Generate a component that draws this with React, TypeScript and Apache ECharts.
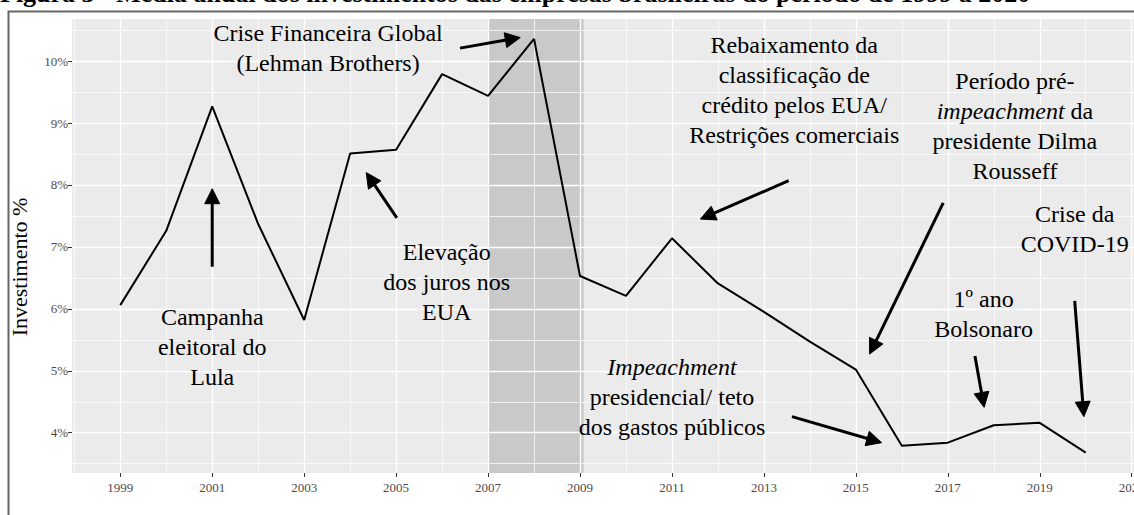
import React, { useEffect, useRef } from "react";
import * as echarts from "echarts";

const years = [1999, 2000, 2001, 2002, 2003, 2004, 2005, 2006, 2007, 2008, 2009, 2010, 2011, 2012, 2013, 2014, 2015, 2016, 2017, 2018, 2019, 2020];
const investment = [6.06, 7.26, 9.27, 7.37, 5.82, 8.51, 8.57, 9.79, 9.44, 10.36, 6.53, 6.21, 7.14, 6.41, 5.95, 5.47, 5.02, 3.79, 3.84, 4.12, 4.16, 3.68];

const xTicks = [1999, 2001, 2003, 2005, 2007, 2009, 2011, 2013, 2015, 2017, 2019, 2021];
const xMinor = [1998, 2000, 2002, 2004, 2006, 2008, 2010, 2012, 2014, 2016, 2018, 2020];
const yTicks = [4, 5, 6, 7, 8, 9, 10];
const yMinor = [3.5, 4.5, 5.5, 6.5, 7.5, 8.5, 9.5, 10.5];
const crisisBand = [2007, 2009.08];

const titleText = "Figura 3 - Média anual dos investimentos das empresas brasileiras do período de 1999 a 2020";
const yAxisTitle = "Investimento %";

const notes = [
  { lines: ["Crise Financeira Global", "(Lehman Brothers)"], x: 2003.52, y: 10.21 },
  { lines: ["Campanha", "eleitoral do", "Lula"], x: 2001.0, y: 5.38 },
  { lines: ["Elevação", "dos juros nos", "EUA"], x: 2006.1, y: 6.43 },
  { lines: ["Rebaixamento da", "classificação de", "crédito pelos EUA/", "Restrições comerciais"], x: 2013.66, y: 9.53 },
  { lines: ["Período pré-", "{i|impeachment} da", "presidente Dilma", "Rousseff"], x: 2018.46, y: 8.95 },
  { lines: ["Crise da", "COVID-19"], x: 2019.76, y: 7.29 },
  { lines: ["1º ano", "Bolsonaro"], x: 2017.78, y: 5.91 },
  { lines: ["{i|Impeachment}", "presidencial/ teto", "dos gastos públicos"], x: 2011.0, y: 4.57 },
];

const arrows = [
  { from: [2006.39, 10.21], to: [2007.7, 10.38] },
  { from: [2001.0, 6.68], to: [2001.0, 7.94] },
  { from: [2005.015, 7.47], to: [2004.35, 8.2] },
  { from: [2013.54, 8.07], to: [2011.62, 7.45] },
  { from: [2016.9, 7.71], to: [2015.3, 5.27] },
  { from: [2013.61, 4.26], to: [2015.56, 3.84] },
  { from: [2017.59, 5.24], to: [2017.79, 4.41] },
  { from: [2019.76, 6.13], to: [2019.96, 4.26] },
];

const SERIF = "'Liberation Serif', 'Times New Roman', serif";

export default function App() {
  const ref = useRef<HTMLDivElement>(null);
  useEffect(() => {
    if (!ref.current) return;
    document.documentElement.style.overflow = "hidden";
    document.body.style.overflow = "hidden";
    const chart = echarts.init(ref.current, undefined, { renderer: "svg", width: 1134, height: 515 });
    const lineData = years.map((y, i) => [y, investment[i]]);
    const gridLines: any[] = [];
    xTicks.forEach((v) => gridLines.push({ xAxis: v, lineStyle: { width: 1.3, color: "#ffffff", type: "solid" } }));
    xMinor.forEach((v) => gridLines.push({ xAxis: v, lineStyle: { width: 0.7, color: "#ffffff", type: "solid" } }));
    yTicks.forEach((v) => gridLines.push({ yAxis: v, lineStyle: { width: 1.3, color: "#ffffff", type: "solid" } }));
    yMinor.forEach((v) => gridLines.push({ yAxis: v, lineStyle: { width: 0.7, color: "#ffffff", type: "solid" } }));

    const option: any = {
      animation: false,
      backgroundColor: "#ffffff",
      grid: {
        left: 72,
        top: 19,
        right: 0,
        bottom: 42,
        show: true,
        backgroundColor: "#EBEBEB",
        borderWidth: 0,
        containLabel: false,
        outerBoundsMode: "none",
      },
      xAxis: {
        type: "value",
        min: 1997.95,
        max: 2021.05,
        axisLine: { show: false },
        splitLine: { show: false },
        axisTick: { show: true, customValues: xTicks, length: 4, lineStyle: { color: "#333333", width: 1 } },
        axisLabel: {
          customValues: xTicks,
          formatter: (v: number) => String(v),
          margin: 8,
          color: "#4D4D4D",
          fontFamily: SERIF,
          fontSize: 13,
          hideOverlap: false,
        },
      },
      yAxis: {
        type: "value",
        min: 3.35,
        max: 10.68,
        axisLine: { show: false },
        splitLine: { show: false },
        axisTick: { show: true, customValues: yTicks, length: 4, lineStyle: { color: "#333333", width: 1 } },
        axisLabel: {
          customValues: yTicks,
          formatter: (v: number) => `${v}%`,
          margin: 4,
          color: "#4D4D4D",
          fontFamily: SERIF,
          fontSize: 13,
        },
      },
      series: [
        {
          type: "line",
          data: lineData,
          showSymbol: false,
          lineStyle: { opacity: 0, width: 0 },
          silent: true,
          z: 1,
          markLine: { silent: true, symbol: ["none", "none"], label: { show: false }, data: gridLines },
        },
        {
          type: "line",
          data: lineData,
          showSymbol: false,
          lineStyle: { opacity: 0, width: 0 },
          silent: true,
          z: 2,
          markArea: {
            silent: true,
            itemStyle: { color: "rgba(0,0,0,0.14)" },
            data: [[{ xAxis: crisisBand[0] }, { xAxis: crisisBand[1] }]],
          },
        },
        {
          type: "line",
          data: lineData,
          showSymbol: false,
          lineStyle: { color: "#000000", width: 2 },
          z: 5,
        },
      ],
    };
    chart.setOption(option);

    const toPx = (p: number[]) => chart.convertToPixel({ gridIndex: 0 }, p) as number[];
    const graphic: any[] = [];

    graphic.push({
      type: "text",
      x: 0,
      y: -7,
      style: { text: titleText, fontFamily: SERIF, fontSize: 26, fontWeight: "bold", fill: "#000", align: "left", verticalAlign: "middle" },
      z: 100,
    });
    graphic.push({
      type: "rect",
      shape: { x: 8.5, y: 11.5, width: 1140, height: 520 },
      style: { fill: "none", stroke: "#666666", lineWidth: 2 },
      z: 100,
      silent: true,
    });
    graphic.push({
      type: "text",
      x: 19,
      y: 267,
      rotation: Math.PI / 2,
      style: { text: yAxisTitle, fontFamily: SERIF, fontSize: 22, fill: "#000", align: "center", verticalAlign: "middle" },
      z: 100,
    });

    notes.forEach((n) => {
      const [px, py] = toPx([n.x, n.y]);
      graphic.push({
        type: "text",
        x: px,
        y: py,
        style: {
          text: n.lines.join("\n"),
          fontFamily: SERIF,
          fontSize: 24,
          lineHeight: 30,
          fill: "#000",
          align: "center",
          verticalAlign: "middle",
          rich: { i: { fontStyle: "italic", fontFamily: SERIF, fontSize: 24, lineHeight: 30, fill: "#000" } },
        },
        z: 100,
      });
    });

    const HEAD_L = 15;
    const HEAD_W = 15;
    arrows.forEach((a) => {
      const [x1, y1] = toPx(a.from);
      const [x2, y2] = toPx(a.to);
      const dx = x2 - x1;
      const dy = y2 - y1;
      const len = Math.sqrt(dx * dx + dy * dy);
      const ux = dx / len;
      const uy = dy / len;
      const bx = x2 - ux * HEAD_L;
      const by = y2 - uy * HEAD_L;
      const px = -uy;
      const py = ux;
      graphic.push({
        type: "line",
        shape: { x1, y1, x2: bx + ux * 2, y2: by + uy * 2 },
        style: { stroke: "#000", lineWidth: 3 },
        z: 100,
      });
      graphic.push({
        type: "polygon",
        shape: {
          points: [
            [x2, y2],
            [bx + (px * HEAD_W) / 2, by + (py * HEAD_W) / 2],
            [bx - (px * HEAD_W) / 2, by - (py * HEAD_W) / 2],
          ],
        },
        style: { fill: "#000", stroke: "#000", lineWidth: 1 },
        z: 100,
      });
    });

    chart.setOption({ graphic });

    return () => chart.dispose();
  }, []);

  return (
    <div
      ref={ref}
      style={{ position: "fixed", left: 0, top: 0, width: 1134, height: 515, overflow: "hidden" }}
    />
  );
}
